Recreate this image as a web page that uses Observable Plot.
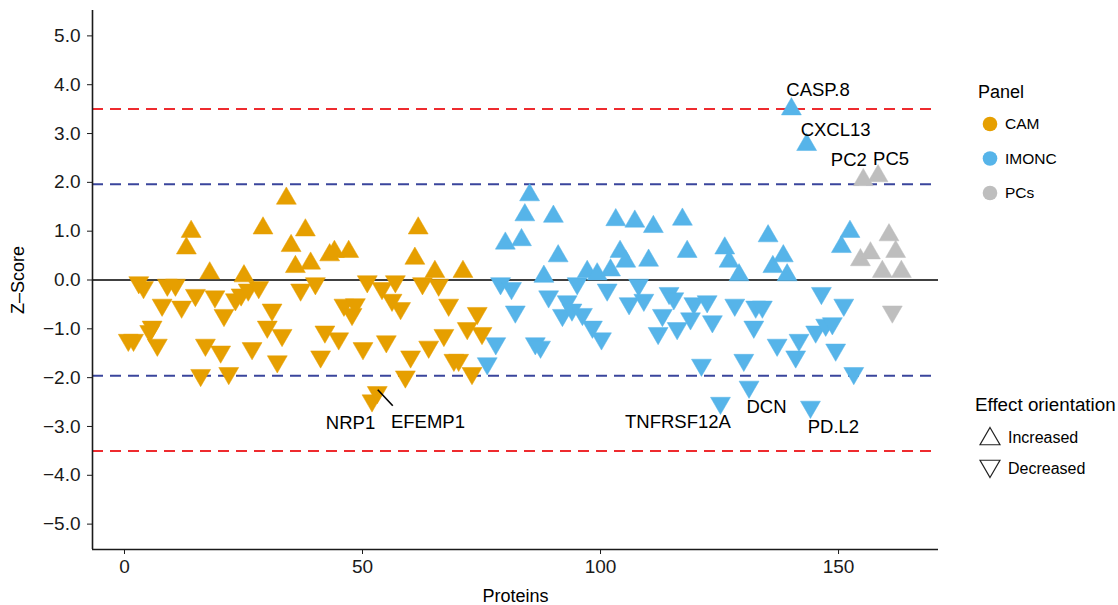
<!DOCTYPE html>
<html><head><meta charset="utf-8">
<script src="https://cdn.jsdelivr.net/npm/d3@7"></script>
<script src="https://cdn.jsdelivr.net/npm/@observablehq/plot@0.6"></script>
<style>
body{margin:0;background:#fff;font-family:"Liberation Sans",Arial,Helvetica,sans-serif;}
#wrap{position:relative;width:1118px;height:605px;overflow:hidden;}
#chart{position:absolute;left:0;top:0;}
#legend{position:absolute;left:0;top:0;pointer-events:none;}
</style></head><body>
<div id="wrap"><div id="chart"></div><svg id="legend" width="1118" height="605"></svg></div>
<script>
// ---- data: [protein index, Z-score] per panel ----
const camPoints = [[0.8,-1.23],[1.9,-1.23],[3.0,-0.05],[4.0,-0.15],[5.3,-1.05],[5.8,-0.96],[6.9,-1.33],[7.9,-0.51],[9.0,-0.1],[10.7,-0.1],[12.0,-0.55],[13.0,0.65],[14.0,0.99],[14.9,-0.31],[16.0,-1.95],[17.0,-1.33],[17.9,0.14],[19.0,-0.34],[20.2,-1.47],[20.9,-0.72],[21.9,-1.91],[23.3,-0.4],[24.5,-0.3],[25.1,0.08],[26.0,-0.2],[26.8,-1.4],[28.2,-0.15],[29.1,1.06],[30.0,-0.96],[31.0,-0.61],[32.1,-1.67],[33.1,-1.13],[34.0,1.67],[35.0,0.70],[35.9,0.27],[37.0,-0.2],[38.0,1.02],[39.1,0.34],[40.1,-0.07],[41.2,-1.57],[42.1,-1.06],[43.1,0.51],[44.1,0.58],[45.0,-1.2],[46.1,-0.51],[47.1,0.58],[47.8,-0.7],[48.5,-0.5],[50.1,-1.4],[51.0,-0.03],[52.0,-2.47],[53.1,-2.3],[54.1,-0.17],[55.0,-1.26],[56.2,-0.41],[56.9,-0.03],[58.0,-0.58],[59.0,-1.98],[60.1,-1.57],[61.0,0.44],[61.7,1.06],[62.6,-0.07],[63.9,-1.37],[65.2,0.17],[66.0,-0.1],[67.1,-1.13],[68.1,-0.51],[69.2,-1.64],[70.2,-1.64],[71.1,0.17],[72.0,-0.99],[73.0,-1.91],[74.1,-0.68],[75.1,-1.09]];
const imoncPoints = [[76.2,-1.71],[78.0,-1.3],[79.0,-0.07],[80.0,0.75],[81.3,-0.17],[82.1,-0.65],[83.4,0.82],[84.1,1.33],[85.1,1.74],[86.3,-1.3],[87.4,-1.37],[88.1,0.07],[89.1,-0.34],[90.1,1.3],[91.1,0.49],[92.0,-0.72],[93.0,-0.44],[94.0,-0.61],[95.1,-0.07],[96.2,-0.7],[97.2,0.17],[98.3,-0.96],[99.3,0.12],[100.2,-1.2],[101.4,-0.2],[102.1,0.2],[103.2,1.23],[104.1,0.58],[105.3,0.38],[106.0,-0.48],[107.2,1.2],[108.0,-0.1],[109.1,-0.41],[110.1,0.4],[111.1,1.09],[112.1,-1.09],[113.0,-0.72],[114.4,-0.27],[115.4,-0.38],[116.1,-0.99],[117.2,1.24],[118.2,0.58],[118.9,-0.79],[119.6,-0.48],[121.2,-1.74],[122.4,-0.44],[123.5,-0.85],[125.2,-2.52],[126.1,0.65],[127.0,0.38],[128.2,-0.51],[129.1,0.1],[130.1,-1.64],[131.2,-2.19],[132.2,-0.96],[132.6,-0.55],[134.0,-0.55],[135.2,0.9],[136.2,0.27],[137.1,-1.33],[138.4,0.49],[139.2,0.1],[140.1,3.5],[141.0,-1.57],[141.7,-1.23],[143.3,2.77],[144.1,-2.6],[145.2,-1.06],[146.4,-0.27],[147.3,-0.92],[148.7,-0.89],[149.4,-1.43],[150.6,0.68],[151.1,-0.51],[152.4,0.99],[153.2,-1.91]];
const pcPoints = [[154.6,0.41],[155.2,2.05],[156.7,0.55],[158.3,2.13],[159.2,0.17],[160.6,0.92],[161.3,-0.65],[162.0,0.58],[163.2,0.17]];

const panelNames = ["CAM","IMONC","PCs"];
const panelColors = ["#E69F00","#56B4E9","#BEBEBE"];
const orientationNames = ["Increased","Decreased"];

const labelProteins = ["CASP.8","CXCL13","PC2","PC5","NRP1","EFEMP1","TNFRSF12A","DCN","PD.L2"];
const labelIndex = [140.1,143.3,155.2,158.3,52.0,53.1,125.2,131.2,144.1];

const xTicks = [0,50,100,150];
const yTicks = [-5,-4,-3,-2,-1,0,1,2,3,4,5];
const zThresholds = [-3.5,3.5];
const zSignificance = [-1.96,1.96];

// layout (pixel offsets of the repelled labels)
const labelOffsets = {"CASP.8":[26.6,-19],"CXCL13":[29,-15],"PC2":[-14.5,-19.5],"PC5":[13,-17],"NRP1":[-21.5,22],"EFEMP1":[50.7,30],"TNFRSF12A":[-42.5,19],"DCN":[17.5,20],"PD.L2":[23,20]};

// ---- build table ----
const rows = [];
[camPoints, imoncPoints, pcPoints].forEach((pts, i) => {
  pts.forEach(([x, z]) => rows.push({x, z, panel: panelNames[i], orient: z >= 0 ? "Increased" : "Decreased"}));
});
const labelRows = labelProteins.map((name, i) => {
  const r = rows.find(d => d.x === labelIndex[i]);
  return {name, x: r.x, z: r.z};
});

const sqrt3 = Math.sqrt(3);
const triangleDown = {
  draw(context, size) {
    const y = -Math.sqrt(size / (sqrt3 * 3));
    context.moveTo(0, -y * 2);
    context.lineTo(-sqrt3 * y, y);
    context.lineTo(sqrt3 * y, y);
    context.closePath();
  }
};

const X_DOMAIN = [-6.72, 171];
const Y_DOMAIN = [-5.52, 5.52];
const R = 7.4;
const FONT = '"Liberation Sans", Arial, Helvetica, sans-serif';

const labelMarks = labelRows.map(d => Plot.text([d], {
  x: "x", y: "z", text: "name", dx: labelOffsets[d.name][0], dy: labelOffsets[d.name][1],
  fontSize: 18.5, fill: "#000", textAnchor: "middle"
}));

const leader = labelRows.filter(d => d.name === "EFEMP1");

const chart = Plot.plot({
  width: 950, height: 605,
  marginLeft: 92, marginRight: 12, marginTop: 10, marginBottom: 56,
  x: {domain: X_DOMAIN},
  y: {domain: Y_DOMAIN},
  color: {domain: panelNames, range: panelColors},
  style: {fontFamily: FONT, fontSize: "19px", color: "#1a1a1a", background: "transparent", overflow: "visible"},
  marks: [
    Plot.ruleY(zThresholds, {stroke: "#EE2B2F", strokeWidth: 2, strokeDasharray: "11,7"}),
    Plot.ruleY(zSignificance, {stroke: "#3A459C", strokeWidth: 2, strokeDasharray: "11,7"}),
    Plot.ruleY([0], {stroke: "#000", strokeWidth: 1.6}),
    Plot.dot(rows, {x: "x", y: "z", fill: "panel", stroke: "panel", strokeWidth: 0.5, r: R,
      symbol: d => d.orient === "Increased" ? d3.symbolTriangle : triangleDown}),
    (index, scales) => {
      const g = d3.create("svg:g");
      leader.forEach(d => {
        const px = scales.x(d.x), py = scales.y(d.z);
        g.append("line").attr("x1", px + 1).attr("y1", py - 2).attr("x2", px + 16).attr("y2", py + 14)
          .attr("stroke", "#000").attr("stroke-width", 1.6);
      });
      return g.node();
    },
    ...labelMarks,
    Plot.ruleX([X_DOMAIN[0]], {stroke: "#1a1a1a", strokeWidth: 1.6}),
    Plot.ruleY([Y_DOMAIN[0]], {stroke: "#1a1a1a", strokeWidth: 1.6}),
    Plot.axisY({ticks: yTicks, tickFormat: d3.format(".1f"), tickSize: 5, tickPadding: 7, label: null, fontSize: 19}),
    Plot.axisX({ticks: xTicks, tickFormat: d3.format("d"), tickSize: 5, tickPadding: 5, label: null, fontSize: 19}),
    Plot.text(["Proteins"], {frameAnchor: "bottom", dy: 47, text: d => d, fontSize: 18, fill: "#000", textAnchor: "middle", lineAnchor: "middle"}),
    Plot.text(["Z–Score"], {frameAnchor: "left", dx: -74, rotate: -90, text: d => d, fontSize: 18, fill: "#000", textAnchor: "middle", lineAnchor: "middle"})
  ]
});
document.getElementById("chart").appendChild(chart);

// ---- legends ----
const lg = d3.select("#legend").style("font-family", FONT);
lg.append("text").attr("x", 978).attr("y", 92).attr("dy", "0.35em").attr("font-size", 18).text("Panel");
panelNames.forEach((name, i) => {
  const cy = 124 + i * 34.5;
  lg.append("circle").attr("cx", 990).attr("cy", cy).attr("r", 7.3).attr("fill", panelColors[i]);
  lg.append("text").attr("x", 1005).attr("y", cy).attr("dy", "0.35em").attr("font-size", 15.5).text(name);
});
lg.append("text").attr("x", 975).attr("y", 404).attr("dy", "0.35em").attr("font-size", 18.8).text("Effect orientation");
const triUp = d3.symbol(d3.symbolTriangle, R * R * Math.PI)();
const triDn = d3.symbol(triangleDown, R * R * Math.PI)();
orientationNames.forEach((name, i) => {
  const cy = 437 + i * 31;
  lg.append("path").attr("d", i === 0 ? triUp : triDn).attr("transform", `translate(990,${cy + (i === 0 ? 2 : -2)})`)
    .attr("fill", "none").attr("stroke", "#222").attr("stroke-width", 1.2);
  lg.append("text").attr("x", 1008).attr("y", cy).attr("dy", "0.35em").attr("font-size", 16).text(name);
});
</script></body></html>
